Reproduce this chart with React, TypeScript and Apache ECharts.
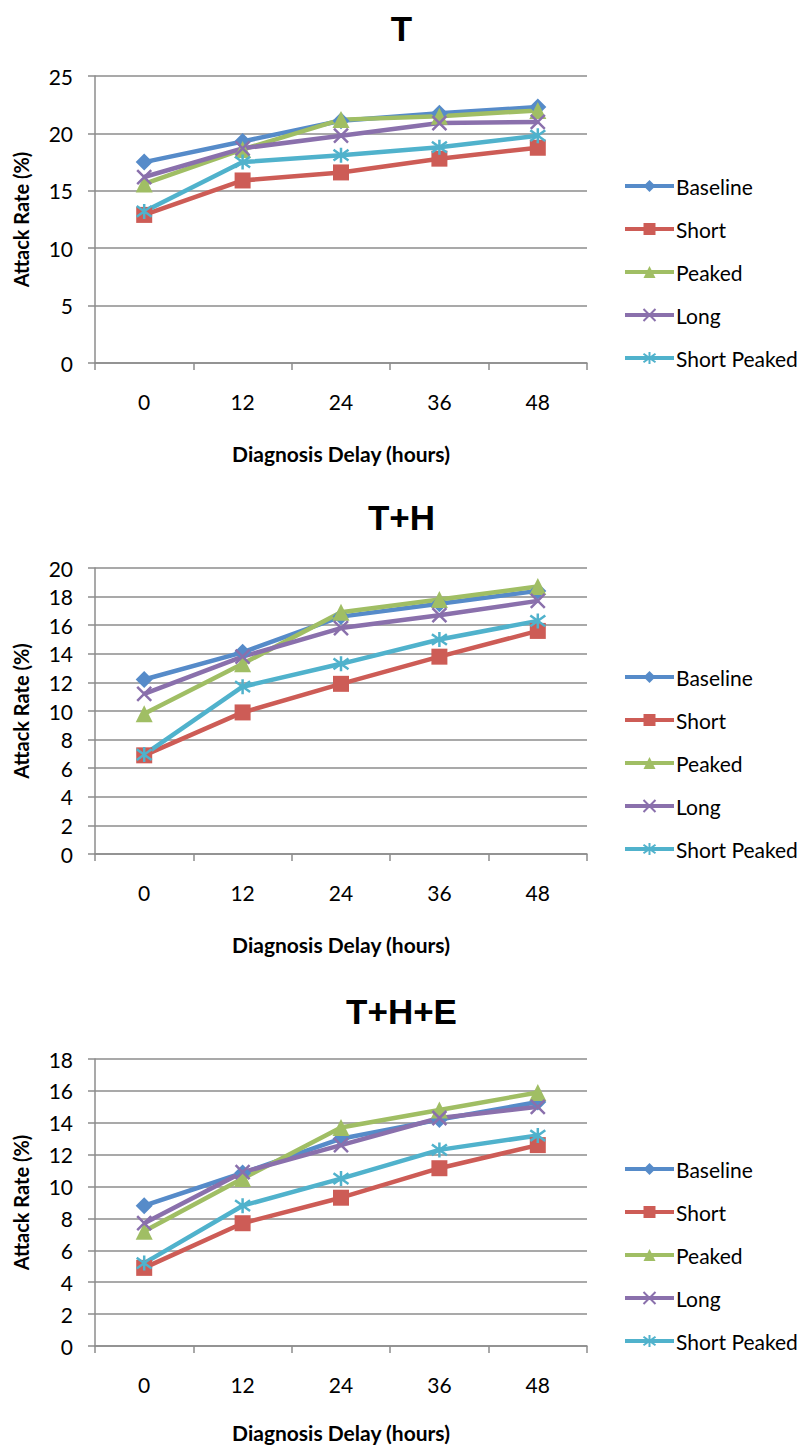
import React, { useEffect, useRef } from "react";
import * as echarts from "echarts";

const categories = ["0", "12", "24", "36", "48"];
const seriesNames = ["Baseline", "Short", "Peaked", "Long", "Short Peaked"];
const chartTitles = ["T", "T+H", "T+H+E"];

// Panel T
const baselineT = [17.5, 19.3, 21.1, 21.75, 22.3];
const shortT = [12.9, 15.9, 16.6, 17.8, 18.75];
const peakedT = [15.6, 18.6, 21.2, 21.5, 22.0];
const longT = [16.2, 18.7, 19.8, 20.9, 21.0];
const shortPeakedT = [13.2, 17.5, 18.1, 18.8, 19.8];

// Panel T+H
const baselineTH = [12.2, 14.1, 16.6, 17.5, 18.4];
const shortTH = [6.9, 9.9, 11.9, 13.8, 15.6];
const peakedTH = [9.8, 13.3, 16.9, 17.8, 18.7];
const longTH = [11.2, 13.8, 15.8, 16.7, 17.7];
const shortPeakedTH = [6.95, 11.7, 13.3, 15.0, 16.3];

// Panel T+H+E
const baselineTHE = [8.8, 10.85, 13.0, 14.2, 15.3];
const shortTHE = [4.9, 7.7, 9.3, 11.15, 12.6];
const peakedTHE = [7.2, 10.5, 13.7, 14.8, 15.9];
const longTHE = [7.7, 10.9, 12.6, 14.3, 15.0];
const shortPeakedTHE = [5.2, 8.8, 10.5, 12.3, 13.2];

const yMax = [25, 20, 18];
const yInterval = [5, 2, 2];

const panels = [
  [baselineT, shortT, peakedT, longT, shortPeakedT],
  [baselineTH, shortTH, peakedTH, longTH, shortPeakedTH],
  [baselineTHE, shortTHE, peakedTHE, longTHE, shortPeakedTHE],
];

const colors = ["#568BC9", "#CD5C56", "#A0BE64", "#8A70AC", "#50B2CC"];
const XPATH = "path://M0,0L10,10M10,0L0,10";
const ASTPATH = "path://M0,0L10,10M10,0L0,10M5,-2L5,12";
const symbols = ["diamond", "rect", "triangle", XPATH, ASTPATH];
const symbolSizes = [17, 16, 17, 14, 15];

const FONT = "Lato, 'Noto Sans', sans-serif";
const AXIS_GREY = "#8c8c8c";

// layout
const gridTops = [76, 568, 1059];
const gridHeights = [287, 286, 287];
const titleCenters = [27, 516, 1010];
const legendTops = [175, 666, 1158];
const xNameGaps = [80, 80, 76];

export default function App() {
  const ref = useRef<HTMLDivElement>(null);
  useEffect(() => {
    if (!ref.current) return;
    const chart = echarts.init(ref.current, null, { renderer: "svg" });
    const grids: any[] = [];
    const xAxes: any[] = [];
    const yAxes: any[] = [];
    const titles: any[] = [];
    const legends: any[] = [];
    const series: any[] = [];
    panels.forEach((panel, p) => {
      grids.push({ left: 95, width: 492, top: gridTops[p], height: gridHeights[p], containLabel: false });
      titles.push({
        text: chartTitles[p],
        left: "center",
        top: titleCenters[p] - 21,
        textStyle: { fontFamily: "'Liberation Sans', Arial, sans-serif", fontWeight: "bold", fontSize: 35, color: "#000" },
      });
      xAxes.push({
        type: "category",
        gridIndex: p,
        data: categories,
        boundaryGap: true,
        axisLine: { lineStyle: { color: AXIS_GREY, width: 1.5 } },
        axisTick: { show: true, length: 7, lineStyle: { color: AXIS_GREY, width: 1.5 } },
        axisLabel: { color: "#000", fontSize: 21, fontFamily: FONT, margin: 28 },
        name: "Diagnosis Delay (hours)",
        nameLocation: "middle",
        nameGap: xNameGaps[p],
        nameTextStyle: { color: "#000", fontSize: 21, fontWeight: "bold", fontFamily: FONT },
        splitLine: { show: false },
      });
      yAxes.push({
        type: "value",
        gridIndex: p,
        min: 0,
        max: yMax[p],
        interval: yInterval[p],
        axisLine: { show: true, lineStyle: { color: AXIS_GREY, width: 1.5 } },
        axisTick: { show: true, length: 7, lineStyle: { color: AXIS_GREY, width: 1.5 } },
        axisLabel: { color: "#000", fontSize: 21, fontFamily: FONT, margin: 22 },
        splitLine: { show: true, lineStyle: { color: AXIS_GREY, width: 1.5 } },
        name: "Attack Rate (%)",
        nameLocation: "middle",
        nameGap: 64,
        nameRotate: 90,
        nameTextStyle: { color: "#000", fontSize: 20, fontWeight: "bold", fontFamily: FONT },
      });
      legends.push({
        orient: "vertical",
        left: 623,
        top: legendTops[p],
        padding: 0,
        itemWidth: 49,
        itemHeight: 15,
        itemGap: 21,
        data: seriesNames,
        lineStyle: { width: 4 },
        textStyle: { color: "#000", fontSize: 21, fontFamily: FONT, lineHeight: 22, padding: [0, 0, 0, -3] },
      });
      panel.forEach((vals, s) => {
        const stroked = s >= 3;
        series.push({
          type: "line",
          name: seriesNames[s],
          xAxisIndex: p,
          yAxisIndex: p,
          data: vals,
          symbol: symbols[s],
          symbolSize: symbolSizes[s],
          showAllSymbol: true,
          lineStyle: { color: colors[s], width: 4.5 },
          itemStyle: stroked
            ? { color: colors[s], borderColor: colors[s], borderWidth: 2.5 }
            : { color: colors[s], borderWidth: 0 },
          emphasis: { disabled: true },
        });
      });
    });
    chart.setOption({
      animation: false,
      color: colors,
      title: titles,
      grid: grids,
      xAxis: xAxes,
      yAxis: yAxes,
      legend: legends,
      series,
    });
    return () => chart.dispose();
  }, []);
  return (
    <div
      ref={ref}
      style={{ position: "absolute", left: 0, top: 0, width: 803, height: 1446, background: "#fff" }}
    />
  );
}
